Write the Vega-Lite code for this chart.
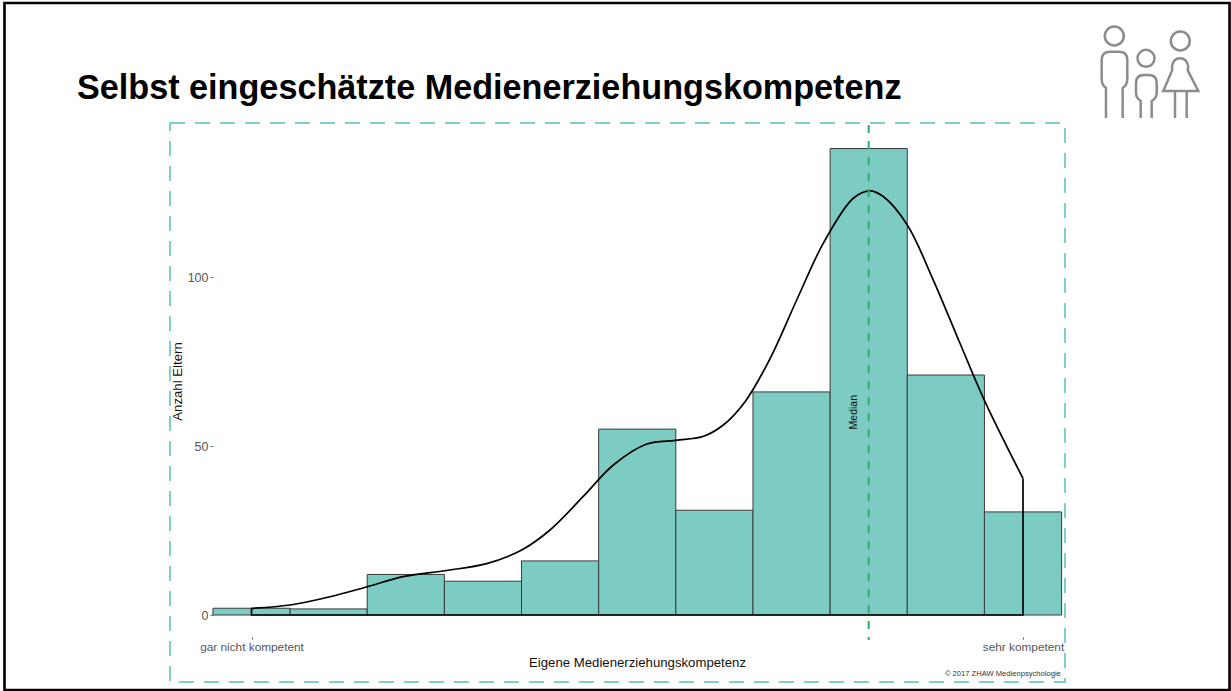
{
  "$schema": "https://vega.github.io/schema/vega-lite/v6.json",
  "width": 1231,
  "height": 691,
  "padding": 0,
  "autosize": "none",
  "background": "white",
  "view": {"stroke": null},
  "title": {"text": "Selbst eingeschätzte Medienerziehungskompetenz", "anchor": "start", "frame": "group", "orient": "top", "offset": 0, "dx": 77, "dy": 133, "baseline": "alphabetic", "font": "Liberation Sans", "fontSize": 34.2, "fontWeight": "bold", "color": "#000000"},
  "datasets": {
    "bars": [
      {"from": -0.5, "to": 0.5, "count": 2},
      {"from": 0.5, "to": 1.5, "count": 1.8},
      {"from": 1.5, "to": 2.5, "count": 12},
      {"from": 2.5, "to": 3.5, "count": 10},
      {"from": 3.5, "to": 4.5, "count": 16},
      {"from": 4.5, "to": 5.5, "count": 55},
      {"from": 5.5, "to": 6.5, "count": 31},
      {"from": 6.5, "to": 7.5, "count": 66},
      {"from": 7.5, "to": 8.5, "count": 138},
      {"from": 8.5, "to": 9.5, "count": 71},
      {"from": 9.5, "to": 10.5, "count": 30.5}
    ],
    "density": [
      {"k": 0, "n": 1.98}, {"k": 0.5, "n": 2.96}, {"k": 1.018, "n": 5.41},
      {"k": 1.5, "n": 8.37}, {"k": 1.964, "n": 11.33},
      {"k": 2.5, "n": 13.1}, {"k": 3.049, "n": 15.2}, {"k": 3.502, "n": 19.23},
      {"k": 3.869, "n": 25.15}, {"k": 4.297, "n": 35.0}, {"k": 4.69, "n": 44.38},
      {"k": 5.123, "n": 50.59}, {"k": 5.498, "n": 51.69},
      {"k": 5.85, "n": 52.8}, {"k": 6.115, "n": 56.21}, {"k": 6.4, "n": 63.2},
      {"k": 6.72, "n": 75.8}, {"k": 7.067, "n": 93.2}, {"k": 7.412, "n": 110.0},
      {"k": 7.8, "n": 123.3}, {"k": 8.017, "n": 125.5}, {"k": 8.189, "n": 123.8},
      {"k": 8.5, "n": 115.4}, {"k": 8.837, "n": 99.1},
      {"k": 9.183, "n": 80.4}, {"k": 9.498, "n": 63.6}, {"k": 10, "n": 40.4}
    ],
    "outline": [
      {"step": 1, "k": 0, "n": 1.98},
      {"step": 2, "k": 0, "n": 0},
      {"step": 3, "k": 10, "n": 0},
      {"step": 4, "k": 10, "n": 40.4}
    ],
    "one": [{"note": "annotation"}]
  },
  "layer": [
    {
      "data": {"name": "one"},
      "mark": {"type": "rect", "fill": null, "stroke": "#000000", "strokeWidth": 2.6},
      "encoding": {
        "x": {"datum": -3.2016, "type": "quantitative", "scale": {"domain": [-3.2599, 12.696], "nice": false, "zero": false},
          "axis": {"orient": "bottom", "offset": -54, "values": [0, 10], "grid": false, "domain": false, "tickSize": 2, "tickColor": "#555555", "tickWidth": 1,
            "labelExpr": "datum.value == 0 ? 'gar nicht kompetent' : 'sehr kompetent'", "labelFont": "Liberation Sans", "labelFontSize": 11.8, "labelColor": "#555555", "labelPadding": 2, "labelOverlap": false, "labelFlush": false, "labelBound": false,
            "title": "Eigene Medienerziehungskompetenz", "titleFont": "Liberation Sans", "titleFontSize": 13.2, "titleFontWeight": "normal", "titleColor": "#111111", "titleX": 637, "titleY": 25, "titleAlign": "center", "titleBaseline": "middle", "titleAnchor": null}},
        "x2": {"datum": 12.677},
        "y": {"datum": 181.07, "type": "quantitative", "scale": {"domain": [-22.485, 181.953], "nice": false, "zero": false},
          "axis": {"orient": "left", "offset": -213, "values": [0, 50, 100], "grid": false, "domain": false, "tickSize": 3, "tickColor": "#777777", "tickWidth": 1,
            "labelFont": "Liberation Sans", "labelFontSize": 12.5, "labelColor": "#555555", "labelPadding": 2, "labelOverlap": false, "labelBound": false,
            "title": "Anzahl Eltern", "titleFont": "Liberation Sans", "titleFontSize": 13.2, "titleFontWeight": "normal", "titleColor": "#111111", "titleX": -36, "titleY": 381, "titleAlign": "center", "titleBaseline": "middle", "titleAngle": 270, "titleAnchor": null}},
        "y2": {"datum": -22.19}
      }
    },
    {
      "data": {"name": "one"},
      "mark": {"type": "rect", "fill": null, "stroke": "#7FD0C6", "strokeWidth": 2, "strokeDash": [15, 10]},
      "encoding": {
        "x": {"datum": -1.0564, "type": "quantitative"},
        "x2": {"datum": 10.544},
        "y": {"datum": 145.56, "type": "quantitative"},
        "y2": {"datum": -19.82}
      }
    },
    {
      "data": {"name": "bars"},
      "mark": {"type": "rect", "fill": "#7CCCC3", "stroke": "#3A3A3A", "strokeWidth": 1},
      "encoding": {
        "x": {"field": "from", "type": "quantitative"},
        "x2": {"field": "to"},
        "y": {"field": "count", "type": "quantitative"},
        "y2": {"datum": 0}
      }
    },
    {
      "data": {"name": "density"},
      "mark": {"type": "line", "color": "#000000", "strokeWidth": 1.7, "interpolate": "catmull-rom"},
      "encoding": {
        "x": {"field": "k", "type": "quantitative"},
        "y": {"field": "n", "type": "quantitative"}
      }
    },
    {
      "data": {"name": "outline"},
      "mark": {"type": "line", "color": "#000000", "strokeWidth": 1.7},
      "encoding": {
        "x": {"field": "k", "type": "quantitative"},
        "y": {"field": "n", "type": "quantitative"},
        "order": {"field": "step", "type": "quantitative"}
      }
    },
    {
      "data": {"name": "one"},
      "mark": {"type": "rule", "color": "#2FAF6E", "strokeWidth": 2, "strokeDash": [8, 8]},
      "encoding": {
        "x": {"datum": 8, "type": "quantitative"},
        "y": {"datum": 145, "type": "quantitative"},
        "y2": {"datum": -7.4}
      }
    },
    {
      "data": {"name": "one"},
      "mark": {"type": "text", "text": "Median", "angle": 270, "font": "Liberation Sans", "fontSize": 10.5, "color": "#111111", "align": "center", "baseline": "middle"},
      "encoding": {
        "x": {"datum": 7.81, "type": "quantitative"},
        "y": {"datum": 60, "type": "quantitative"}
      }
    },
    {
      "data": {"name": "one"},
      "mark": {"type": "text", "text": "© 2017 ZHAW Medienpsychologie", "font": "Liberation Sans", "fontSize": 7.6, "color": "#333333", "align": "right", "baseline": "middle"},
      "encoding": {
        "x": {"datum": 10.49, "type": "quantitative"},
        "y": {"datum": -17.46, "type": "quantitative"}
      }
    },
    {
      "data": {"name": "one"},
      "mark": {"type": "point", "filled": false, "stroke": "#8C8C8C", "strokeWidth": 2.5, "opacity": 1, "size": 10000,
        "shape": "M-0.904,-0.74 A0.19,0.19 0 1 0 -0.524,-0.74 A0.19,0.19 0 1 0 -0.904,-0.74 Z M-0.88,0.9 L-0.88,0.3 Q-0.966,0.24 -0.966,0.12 L-0.966,-0.26 Q-0.966,-0.426 -0.8,-0.426 L-0.614,-0.426 Q-0.454,-0.426 -0.454,-0.26 L-0.454,0.12 Q-0.454,0.24 -0.546,0.3 L-0.546,0.9 M-0.25,-0.294 A0.17,0.17 0 1 0 0.09,-0.294 A0.17,0.17 0 1 0 -0.25,-0.294 Z M-0.186,0.9 L-0.186,0.56 Q-0.28,0.5 -0.28,0.4 L-0.28,0.2 Q-0.28,0.04 -0.12,0.04 L-0.026,0.04 Q0.134,0.04 0.134,0.2 L0.134,0.4 Q0.134,0.5 0.034,0.56 L0.034,0.9 M0.416,-0.64 A0.19,0.19 0 1 0 0.796,-0.64 A0.19,0.19 0 1 0 0.416,-0.64 Z M0.266,0.36 L0.966,0.36 L0.78,0 Q0.74,-0.06 0.766,-0.12 Q0.74,-0.294 0.6,-0.294 Q0.46,-0.294 0.44,-0.12 Q0.46,-0.06 0.42,0 Z M0.5,0.36 L0.5,0.9 M0.734,0.36 L0.734,0.9"},
      "encoding": {
        "x": {"datum": 11.646, "type": "quantitative"},
        "y": {"datum": 160.36, "type": "quantitative"}
      }
    }
  ]
}
